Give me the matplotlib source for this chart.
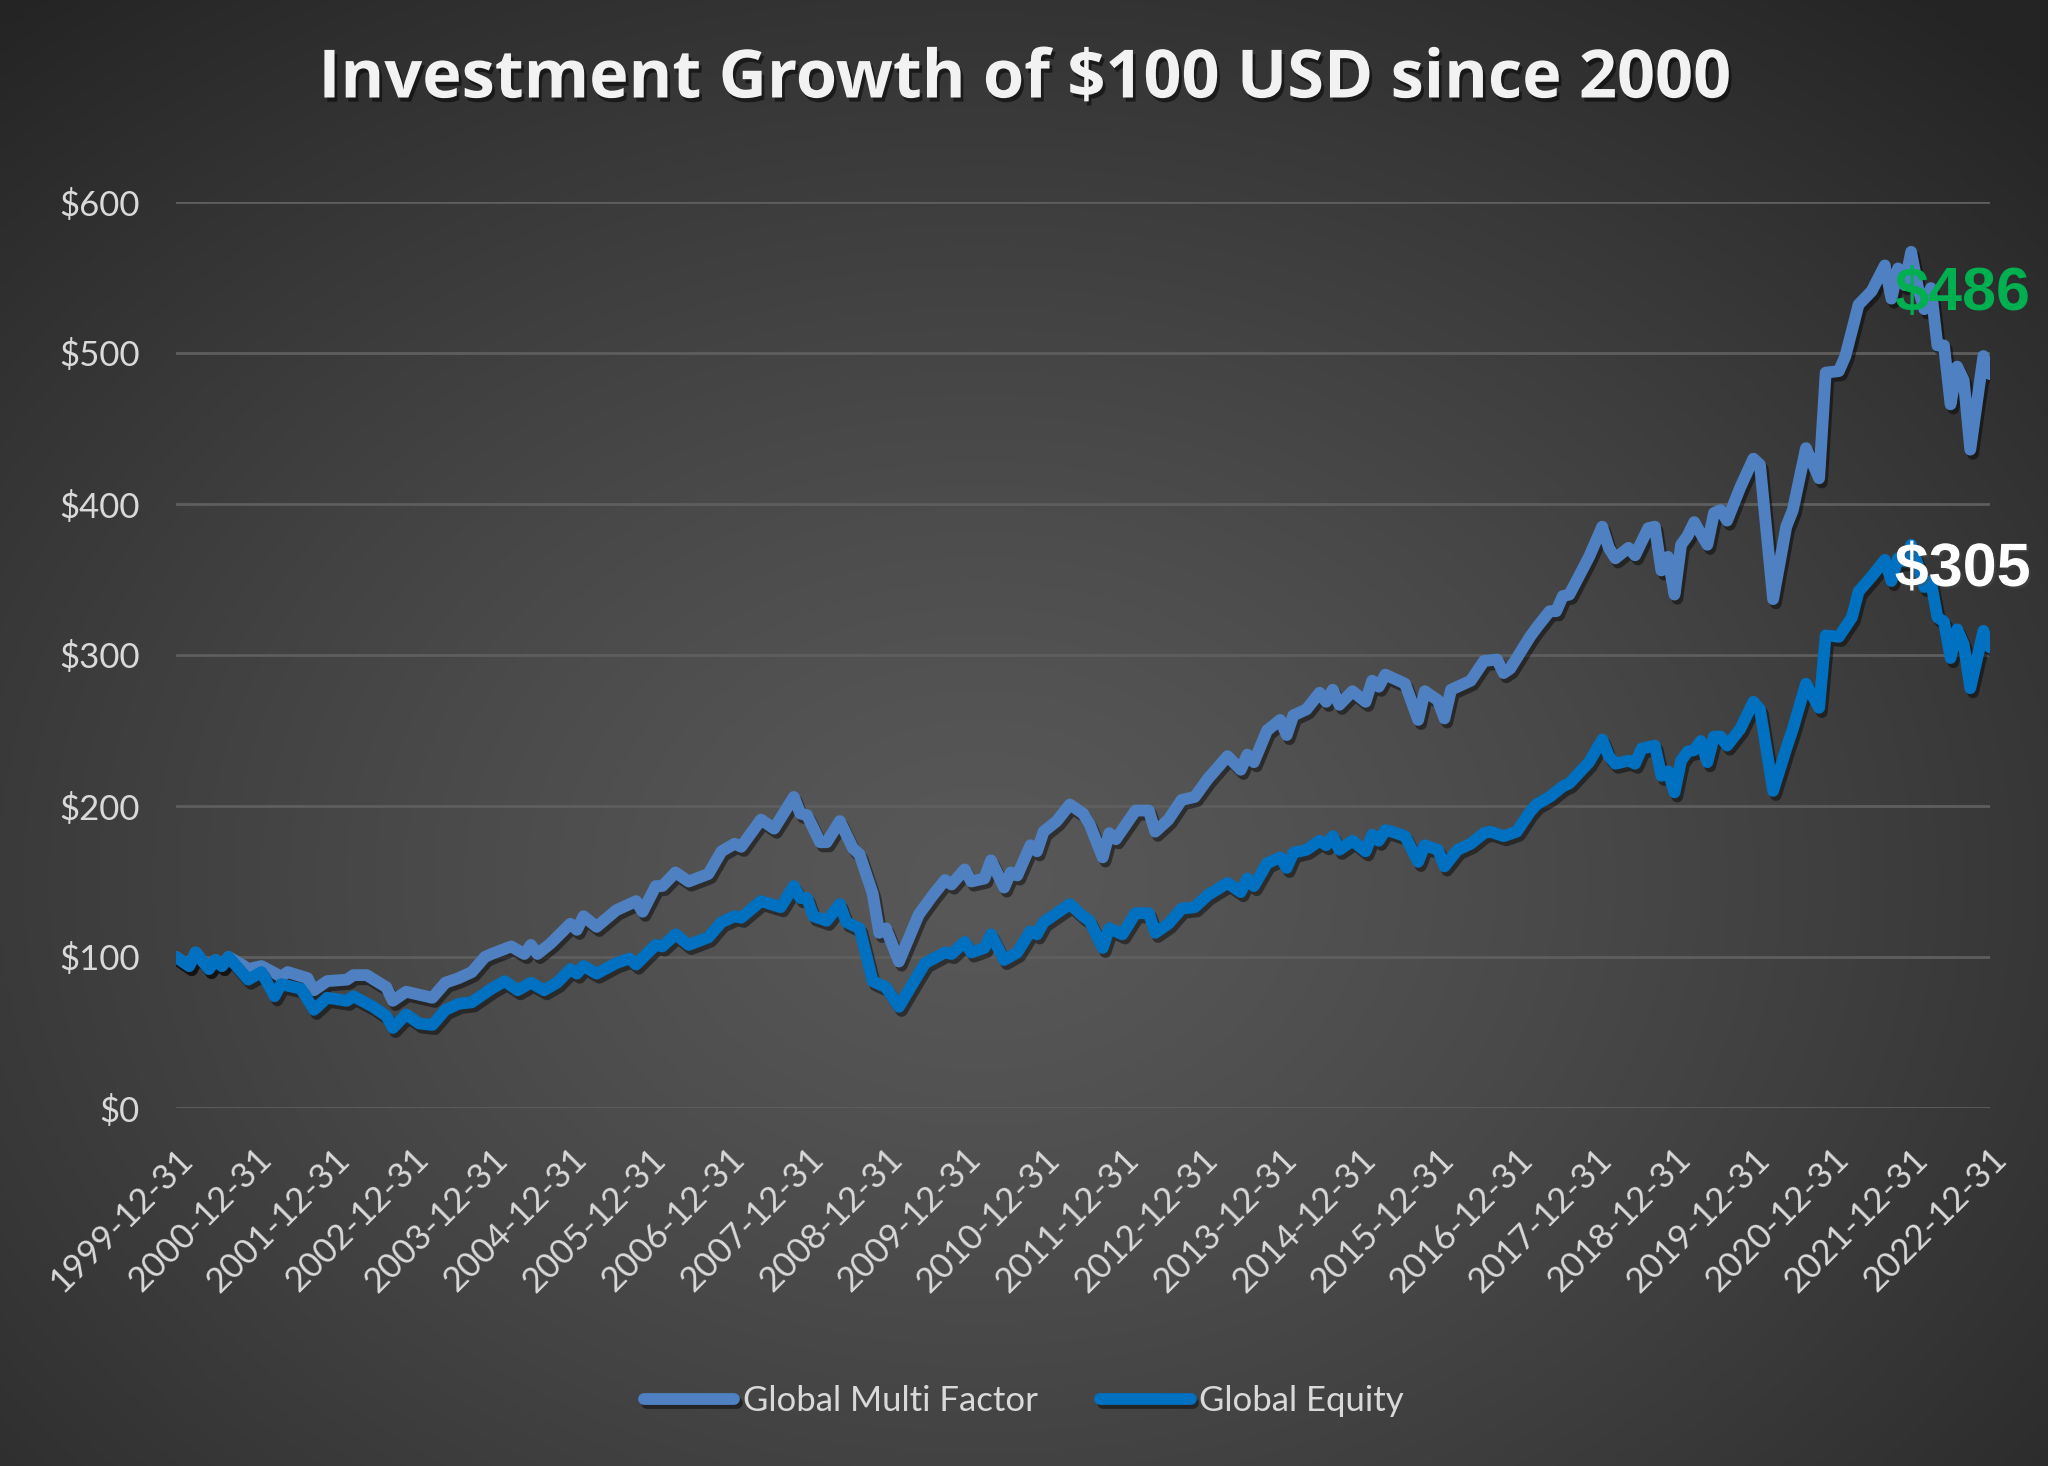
import numpy as np
import matplotlib
matplotlib.use("Agg")
import matplotlib.pyplot as plt
import matplotlib.patheffects as pe

# months since 1999-12-31
mf_month = [0, 2, 3, 5, 6, 7, 8, 10, 11, 13, 16, 17, 20, 21, 23, 26, 27, 29, 32, 33, 35, 37, 39, 41, 43, 45, 47,
            48, 51, 53, 54, 55, 57, 60, 61, 62, 64, 67, 70, 71, 73, 74, 76, 78, 81, 83, 85, 86, 89, 91, 94, 95,
            96, 98, 99, 101, 103, 104, 106, 107, 108, 110, 113, 115, 117, 118, 120, 121, 123, 124, 126, 127, 128,
            130, 131, 132, 134, 136, 138, 139, 141, 142, 143, 146, 148, 149, 151, 153, 155, 157, 160, 162, 163,
            164, 166, 168, 169, 170, 172, 174, 175, 176, 177, 179, 181, 182, 183, 184, 185, 187, 189, 190, 192,
            193, 194, 197, 199, 201, 202, 203, 206, 207, 209, 210, 211, 212, 215, 217, 218, 219, 221, 222, 224,
            225, 226, 227, 228, 229, 230, 231, 233, 234, 235, 236, 238, 240, 241, 243, 245, 246, 248, 250, 251,
            253, 254, 256, 258, 260, 261, 262, 263, 264, 265, 266, 267, 268, 269, 270, 271, 272, 273, 275, 276]
mf_value = [100, 94, 103, 92, 98, 94, 100, 95, 92, 94, 87, 90, 86, 78, 84, 85, 88, 88, 80, 71, 77, 75, 73, 83, 86, 90, 100,
            102, 107, 102, 108, 102, 109, 122, 118, 127, 120, 131, 137, 130, 147, 147, 156, 150, 155, 170, 175, 173, 191, 185, 206, 195,
            194, 176, 176, 190, 172, 168, 142, 116, 119, 97, 128, 140, 151, 148, 158, 150, 152, 164, 146, 156, 154,
            174, 170, 183, 190, 201, 195, 188, 166, 182, 178, 197, 197, 183, 191, 204, 206, 218, 233, 224, 234,
            229, 250, 257, 247, 260, 264, 275, 269, 277, 267, 276, 269, 283, 279, 287, 285, 281, 257, 276, 270,
            258, 277, 283, 296, 297, 288, 291, 312, 318, 329, 329, 339, 340, 365, 385, 371, 364, 371, 366, 384,
            385, 356, 365, 340, 373, 379, 388, 373, 394, 396, 389, 411, 430, 426, 337, 385, 396, 437, 417, 487,
            488, 498, 532, 541, 558, 536, 556, 545, 567, 544, 529, 543, 505, 505, 466, 491, 482, 436, 498, 486]

eq_month = [0, 2, 3, 5, 6, 7, 8, 11, 13, 15, 16, 19, 21, 23, 26, 27, 30, 32, 33, 35, 37, 39, 41, 43, 45, 48, 50, 52,
            54, 56, 58, 60, 61, 62, 64, 67, 69, 70, 73, 74, 76, 78, 81, 83, 85, 86, 89, 92, 94, 95, 96, 97, 99,
            101, 102, 104, 106, 108, 110, 113, 114, 117, 118, 120, 121, 123, 124, 126, 128, 130, 131, 132, 134,
            136, 138, 139, 141, 142, 144, 146, 148, 149, 151, 153, 155, 157, 160, 162, 163, 164, 166, 168, 169,
            170, 172, 174, 175, 176, 177, 179, 181, 182, 183, 184, 185, 187, 189, 190, 192, 193, 195, 197, 199,
            200, 202, 204, 206, 207, 209, 211, 212, 215, 217, 218, 219, 221, 222, 223, 225, 226, 227, 228, 229,
            230, 231, 232, 233, 234, 235, 236, 238, 240, 241, 243, 245, 246, 248, 250, 251, 253, 255, 256, 258,
            260, 261, 262, 263, 264, 265, 266, 267, 268, 269, 270, 271, 272, 273, 275, 276]
eq_value = [100, 94, 103, 92, 98, 94, 100, 85, 90, 74, 82, 79, 65, 73, 71, 74, 67, 61, 53, 62, 56, 55, 65, 69, 70, 79, 84, 78,
            83, 78, 83, 92, 89, 94, 89, 96, 99, 95, 108, 107, 115, 108, 113, 123, 127, 126, 137, 133, 147, 139, 139, 127, 124,
            135, 123, 119, 84, 80, 67, 89, 96, 103, 102, 110, 103, 106, 115, 98, 103, 117, 115, 123, 129,
            135, 127, 124, 106, 119, 115, 129, 129, 116, 122, 132, 133, 141, 149, 143, 152, 147, 162, 166, 159,
            169, 171, 177, 174, 180, 171, 177, 170, 181, 177, 184, 183, 180, 163, 174, 171, 160, 171, 175, 182,
            183, 180, 183, 196, 201, 206, 213, 215, 229, 244, 233, 228, 230, 228, 238, 240, 220, 223, 209, 230,
            236, 237, 243, 229, 246, 246, 240, 251, 269, 264, 210, 238, 251, 281, 265, 313, 312, 325, 342, 352,
            363, 349, 364, 362, 373, 360, 345, 349, 325, 322, 298, 317, 307, 278, 316, 305]

tick_labels = ['1999-12-31', '2000-12-31', '2001-12-31', '2002-12-31', '2003-12-31', '2004-12-31',
               '2005-12-31', '2006-12-31', '2007-12-31', '2008-12-31', '2009-12-31', '2010-12-31',
               '2011-12-31', '2012-12-31', '2013-12-31', '2014-12-31', '2015-12-31', '2016-12-31',
               '2017-12-31', '2018-12-31', '2019-12-31', '2020-12-31', '2021-12-31', '2022-12-31']
y_ticks = [0, 100, 200, 300, 400, 500, 600]

fig = plt.figure(figsize=(20.48, 14.66), dpi=100)

# dark radial background
bg = fig.add_axes([0, 0, 1, 1], zorder=-10)
yy, xx = np.mgrid[0:1466, 0:2048]
r = np.sqrt(((xx - 980) / 1500.0) ** 2 + ((yy - 880) / 1150.0) ** 2)
r = np.clip(r, 0, 1)
shade = (88 - (88 - 36) * r ** 1.3) / 255.0
img = np.dstack([shade, shade, shade])
bg.imshow(img, aspect='auto', extent=[0, 1, 0, 1], origin='upper')
bg.axis('off')

ax = fig.add_axes([176 / 2048, 1 - 1108 / 1466, 1814 / 2048, 906 / 1466])
ax.patch.set_alpha(0)

shadow = [pe.SimpleLineShadow(offset=(2, -3), shadow_color='black', alpha=0.45), pe.Normal()]
ax.plot(mf_month, mf_value, color='#4f81c2', lw=8.5, solid_joinstyle='round', solid_capstyle='round',
        label='Global Multi Factor', path_effects=shadow, zorder=3)
ax.plot(eq_month, eq_value, color='#0070c0', lw=8.5, solid_joinstyle='round', solid_capstyle='round',
        label='Global Equity', path_effects=shadow, zorder=4)

ax.set_xlim(0, 276)
ax.set_ylim(0, 600)
ax.set_yticks(y_ticks)
ax.set_yticklabels(['$' + str(v) for v in y_ticks])
ax.set_xticks(range(0, 277, 12))
ax.set_xticklabels(tick_labels, rotation=45, ha='right', rotation_mode='anchor')
ax.grid(axis='y', color='#5e5e5e', lw=2)
ax.set_axisbelow(True)
for s in ax.spines.values():
    s.set_visible(False)
ax.tick_params(axis='y', length=0, pad=26, labelsize=25, labelcolor='#d9d9d9')
ax.tick_params(axis='x', length=0, pad=25, labelsize=25, labelcolor='#d9d9d9')
for lab in ax.get_xticklabels() + ax.get_yticklabels():
    lab.set_family('Lato')

ax.text(261.5, 539, '$' + str(mf_value[-1]), color='#00b050', fontsize=44, fontweight='bold',
        family='Liberation Sans', ha='left', va='center', zorder=6)
ax.text(261.5, 356, '$' + str(eq_value[-1]), color='white', fontsize=44, fontweight='bold',
        family='Liberation Sans', ha='left', va='center', zorder=6,
        path_effects=[pe.withSimplePatchShadow(offset=(1.5, -1.5), alpha=0.4)])

fig.text(0.5, 1 - 80 / 1466, 'Investment Growth of $100 USD since 2000', color='#f2f2f2', fontsize=48,
         fontweight='bold', family='Open Sans', ha='center', va='center',
         path_effects=[pe.SimplePatchShadow(offset=(2, -3), shadow_rgbFace='black', alpha=0.5), pe.Normal()])

fig.legend(loc='center', bbox_to_anchor=(0.5, 1 - 1401 / 1466), ncol=2, frameon=False,
           handlelength=2.6, handletextpad=0.25, columnspacing=1.8,
           prop={'family': 'Lato', 'size': 25}, labelcolor='#d9d9d9')

fig.savefig('out.png', dpi=100)
